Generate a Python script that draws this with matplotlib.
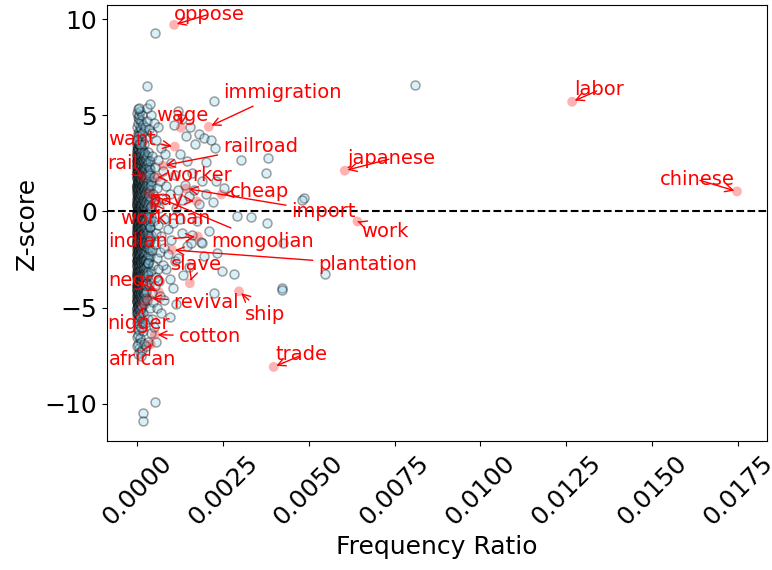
import numpy as np
import matplotlib
matplotlib.use("Agg")
import matplotlib.pyplot as plt
from matplotlib.colors import to_rgba

# ---------------- data ----------------
# dense core of the cloud: x in units of 1e-5, y = z-score
core_x_e5 = [
 2,5,9,14,1,7,11,17,3,20,6,12,25,0,15,8,4,10,18,1,22,13,6,2,28,9,16,3,11,21,0,7,14,5,24,1,18,10,3,30,8,13,2,20,6,16,0,11,4,26,9,1,15,7,19,3,12,5,23,0,10,17,2,8,14,27,4,1,11,20,6,16,0,9,3,13,24,7,1,18,10,5,2,15,8,0,12,21,4,6,1,10,17,3,8,0,13,5,2,9,1,6,
 1,4,8,12,16,3,10,6,19,0,14,23,2,8,12,5,17,0,9,3,22,13,6,1,18,10,4,15,8,2,13,6,22,0,10,4,16,8,2,13,6,20,0,11,3,17,7,1,14,5,10,22,2,16,8,0,12,4,20,7,1,14,10,3,18,6,0,12,4,15,7,2,10,0,5,12,3,8,1,4,
 0,3,6,10,13,1,5,9,16,2,7,11,0,4,15,8,2,12,6,19,0,4,9,15,2,7,12,3,18,0,9,5,14,1,7,11,3,18,0,6,9,15,2,12,5,0,8,19,3,13,6,1,10,4,15,0,8,3,11,6,17,1,9,4,14,2,7,0,11,4,1,8,3,0,6,2,
 3,7,2,6,4,9,1,5,3,8,1,6,4,2,7,5,1,3,8,6,2,4,9,1,5,3,7,2,5,9,3,6,2,5,7,3,1,5,9,3,6,1]
core_y = [
 3.3,3.1,3.4,3.2,2.9,2.8,3.0,2.7,2.6,2.9,2.5,2.6,2.4,2.7,2.5,3.2,2.2,2.3,2.1,2.4,2.6,2.0,1.9,2.0,2.2,1.8,1.7,1.6,1.5,1.9,1.8,1.4,1.3,1.2,1.5,1.1,1.2,1.0,0.9,1.1,0.8,0.7,0.6,0.8,0.5,0.4,0.3,0.3,0.2,0.5,0.1,-0.1,-0.1,-0.2,-0.3,-0.4,-0.5,-0.6,-0.4,-0.7,-0.8,-0.9,-1.0,-1.1,-1.2,-0.9,-1.3,-1.5,-1.5,-1.4,-1.7,-1.8,-1.9,-2.0,-2.1,-2.2,-1.9,-2.4,-2.5,-2.6,-2.7,-2.8,-3.0,-3.0,-3.2,-3.3,-3.4,-3.1,-3.5,-3.7,-3.9,-3.9,-3.6,-4.1,-4.3,-4.4,-4.5,-4.6,-4.8,-4.9,-5.1,-5.2,
 3.0,3.3,2.9,3.1,3.3,2.7,2.7,2.3,2.5,2.1,2.3,2.3,1.9,2.1,1.8,1.7,1.5,1.4,1.3,1.3,1.3,1.1,0.9,0.7,0.9,0.6,0.5,0.6,0.4,0.2,0.1,0.0,0.1,-0.2,-0.3,-0.5,-0.6,-0.7,-0.8,-0.9,-1.0,-1.1,-1.2,-1.3,-1.4,-1.5,-1.5,-1.7,-1.6,-1.9,-1.9,-2.1,-2.2,-2.3,-2.3,-2.6,-2.5,-2.7,-2.8,-2.9,-3.1,-3.2,-3.3,-3.4,-3.4,-3.5,-3.7,-3.8,-4.0,-4.1,-4.1,-4.3,-4.5,-4.7,-4.9,-4.8,-5.3,-5.1,-5.5,-5.7,
 3.2,3.4,3.0,3.2,2.9,2.6,2.7,2.5,2.6,2.3,2.2,2.1,2.0,1.9,2.0,1.7,1.6,1.5,1.4,1.6,1.2,1.1,1.1,1.0,0.8,0.7,0.5,0.4,0.5,0.5,0.3,0.1,0.0,-0.2,-0.4,-0.6,-0.7,-0.7,-0.9,-0.9,-1.1,-1.1,-1.2,-1.4,-1.4,-1.6,-1.6,-1.7,-1.8,-1.9,-2.1,-2.2,-2.3,-2.4,-2.5,-2.8,-2.7,-2.9,-3.0,-3.1,-3.1,-3.3,-3.6,-3.8,-3.8,-4.0,-4.0,-4.2,-4.2,-4.4,-4.6,-4.7,-4.9,-5.0,-5.4,-5.6,
 3.0,3.3,2.8,2.6,2.4,2.3,2.2,2.0,1.8,1.5,1.3,1.2,1.0,0.9,0.9,0.6,0.4,0.1,0.0,-0.3,-0.4,-0.8,-0.9,-1.1,-1.2,-1.6,-1.8,-2.0,-2.2,-2.5,-2.6,-2.8,-3.2,-3.3,-3.5,-3.7,-4.1,-4.2,-4.4,-4.6,-4.8,-5.3]

# further core words, grouped by their x (in 1e-5)
col_x_e5 = [1, 3, 5, 7, 9, 11, 13, 15, 17, 19, 21, 23, 25, 27, 29, 31, 33, 35, 37, 39, 42]
col_y = [
 [3.4,3.1,2.9,2.6,2.4,2.3,2.0,1.8,1.7,1.4,1.2,1.0,0.9,0.6,0.4,0.3,0.0,-0.2,-0.4,-0.5,-0.8,-1.0,-1.1,-1.4,-1.6,-1.7,-2.0,-2.2,-2.3,-2.6,-2.8,-2.9,-3.2,-3.4,-3.5,-3.8,-4.0,-4.1,-4.4,-4.6,-4.7,-5.0,-5.3],
 [3.3,3.2,2.8,2.7,2.5,2.2,2.1,1.9,1.6,1.5,1.3,1.1,0.8,0.7,0.5,0.2,0.1,-0.1,-0.3,-0.6,-0.7,-0.9,-1.2,-1.3,-1.5,-1.8,-1.9,-2.1,-2.4,-2.5,-2.7,-3.0,-3.1,-3.3,-3.6,-3.7,-3.9,-4.2,-4.3,-4.5,-4.8,-4.9,-5.2],
 [3.5,3.0,2.9,2.7,2.4,2.2,2.0,1.9,1.7,1.4,1.3,1.0,0.8,0.7,0.4,0.3,0.0,-0.1,-0.4,-0.5,-0.7,-1.0,-1.2,-1.3,-1.6,-1.7,-2.0,-2.1,-2.3,-2.6,-2.7,-3.0,-3.2,-3.3,-3.6,-3.8,-3.9,-4.2,-4.4,-4.5,-4.8,-5.1,-5.4],
 [3.2,3.0,2.8,2.5,2.3,2.1,1.8,1.6,1.5,1.2,1.1,0.9,0.6,0.5,0.2,0.1,-0.2,-0.3,-0.6,-0.8,-0.9,-1.1,-1.4,-1.5,-1.8,-2.0,-2.2,-2.4,-2.5,-2.8,-2.9,-3.1,-3.4,-3.5,-3.7,-4.0,-4.2,-4.3,-4.6,-4.9,-5.0,-5.6],
 [3.4,3.1,2.9,2.6,2.4,2.2,1.9,1.7,1.5,1.3,1.0,0.9,0.7,0.4,0.2,0.1,-0.1,-0.4,-0.5,-0.8,-1.0,-1.1,-1.3,-1.6,-1.8,-1.9,-2.2,-2.3,-2.6,-2.8,-3.0,-3.1,-3.3,-3.6,-3.8,-4.0,-4.1,-4.4,-4.7,-4.8,-5.1],
 [3.3,3.0,2.7,2.5,2.3,2.0,1.8,1.6,1.4,1.1,1.0,0.8,0.5,0.3,0.2,-0.1,-0.2,-0.5,-0.7,-0.9,-1.1,-1.2,-1.5,-1.7,-1.9,-2.1,-2.4,-2.5,-2.7,-3.0,-3.2,-3.4,-3.5,-3.8,-3.9,-4.2,-4.4,-4.6,-4.9,-5.3],
 [3.1,2.9,2.6,2.4,2.1,2.0,1.7,1.5,1.2,1.1,0.9,0.6,0.4,0.3,0.0,-0.2,-0.4,-0.6,-0.8,-1.0,-1.3,-1.4,-1.6,-1.9,-2.0,-2.2,-2.5,-2.7,-2.9,-3.1,-3.3,-3.6,-3.7,-3.9,-4.2,-4.3,-4.5,-4.8,-5.0],
 [3.2,2.8,2.6,2.3,2.1,1.9,1.6,1.4,1.3,1.0,0.8,0.5,0.4,0.1,-0.1,-0.3,-0.6,-0.7,-0.9,-1.2,-1.3,-1.5,-1.8,-2.0,-2.1,-2.4,-2.6,-2.8,-3.0,-3.3,-3.4,-3.7,-3.9,-4.1,-4.4,-4.6,-4.9],
 [3.0,2.7,2.5,2.2,2.0,1.8,1.5,1.3,1.1,0.9,0.6,0.4,0.2,0.0,-0.3,-0.5,-0.6,-0.9,-1.1,-1.3,-1.6,-1.7,-1.9,-2.2,-2.4,-2.6,-2.9,-3.0,-3.2,-3.5,-3.7,-4.0,-4.2,-4.5,-4.7],
 [3.1,2.8,2.4,2.2,1.9,1.7,1.5,1.2,1.0,0.7,0.5,0.3,0.0,-0.2,-0.4,-0.7,-0.9,-1.1,-1.4,-1.5,-1.8,-2.0,-2.3,-2.5,-2.7,-3.0,-3.2,-3.4,-3.7,-3.9,-4.2,-4.4,-4.8],
 [2.9,2.6,2.3,2.1,1.8,1.6,1.3,1.1,0.8,0.6,0.3,0.1,-0.1,-0.4,-0.6,-0.8,-1.1,-1.3,-1.6,-1.8,-2.1,-2.3,-2.5,-2.8,-3.0,-3.3,-3.5,-3.8,-4.1,-4.3,-4.6],
 [3.0,2.5,2.2,1.9,1.5,1.2,0.9,0.5,0.2,-0.1,-0.5,-0.8,-1.2,-1.5,-1.8,-2.2,-2.5,-2.9,-3.2,-3.6,-3.9,-4.3],
 [2.8,2.4,2.0,1.7,1.4,1.0,0.7,0.4,0.0,-0.3,-0.7,-1.0,-1.4,-1.7,-2.0,-2.4,-2.7,-3.1,-3.4,-3.8,-4.1,-4.5],
 [2.7,2.2,1.8,1.3,0.9,0.5,0.1,-0.4,-0.8,-1.2,-1.6,-2.1,-2.5,-2.9,-3.3,-3.8,-4.2],
 [2.9,2.4,1.9,1.5,1.1,0.6,0.2,-0.2,-0.7,-1.1,-1.5,-1.9,-2.4,-2.8,-3.2,-3.7],
 [2.5,2.0,1.6,1.2,0.7,0.3,-0.1,-0.6,-1.0,-1.4,-1.9,-2.3,-2.7,-3.1],
 [2.6,2.1,1.4,0.9,0.4,-0.2,-0.6,-1.2,-1.7,-2.2,-2.7,-3.3],
 [2.3,1.7,1.0,0.5,-0.1,-0.7,-1.3,-1.9,-2.5],
 [2.0,1.3,0.6,0.0,-0.8,-1.5,-2.3],
 [2.2,1.1,0.2,-0.5,-1.4,-2.0],
 [1.6,0.7,-0.3,-1.2]]

# upper and lower tails of the cloud (x in 1e-5)
tail_x_e5 = [1,4,8,12,2,6,10,15,0,4,8,13,3,7,11,17,1,5,9,14,3,7,19,22,6,10,2,16,0,24,20,
             0,5,10,2,7,14,1,4,9,3,12,6,1,17,8,4,15,20,11,18,22,25,11]
tail_y = [3.6,3.8,3.6,3.9,4.1,4.2,4.0,3.7,4.4,4.6,4.4,4.3,4.9,4.8,4.7,4.5,5.1,5.0,5.2,5.0,5.3,5.4,4.2,3.8,3.5,3.5,3.9,4.1,3.7,4.4,3.5,
          -5.8,-5.9,-5.5,-6.1,-6.2,-5.7,-6.5,-6.4,-6.6,-6.9,-6.8,-7.1,-7.0,-6.2,-7.3,-7.4,-7.2,-6.9,-6.0,-5.3,-5.8,-7.0,-7.5]

# halo around the core (x in 1e-5)
halo_x_e5 = [32,38,45,52,60,35,42,50,58,66,75,34,40,48,55,63,72,85,95,33,39,46,54,61,70,80,90,105,36,44,51,58,66,78,
             32,40,48,56,35,43,52,30,38,47,33,28,35,42,50,30,38,45,55,62,70,82,100,110,120,130,115,140,150,125,100,90,
             110,85,65,75,95,68,58,45,40,50,32,55,60,160,170,155,142,130,118,108,125,145,165,180,175,160,145,130,120,
             150,135,105,80,115,70,95,190,200,185,195,210,220,230]
halo_y = [3.1,2.6,2.9,2.3,2.7,1.9,1.4,1.8,1.2,1.6,2.1,0.8,0.3,0.9,0.5,0.2,0.7,1.3,0.9,-0.3,-0.8,-0.5,-1.1,-0.7,-1.3,-0.4,-0.9,-0.6,-1.6,-2.0,-1.7,-2.4,-2.1,-1.9,
          -2.7,-3.1,-2.8,-3.4,-3.8,-4.2,-3.9,-4.6,-5.0,-4.7,-5.6,4.7,4.3,5.0,4.6,5.4,5.6,4.1,3.7,4.4,3.3,3.0,2.5,1.9,1.1,0.6,0.2,1.4,0.8,-0.4,-1.5,-2.2,
          -2.6,-3.0,-3.6,-2.8,-3.5,-4.4,-5.0,-5.6,-6.3,-6.0,-6.8,-6.8,-3.0,2.0,3.5,4.4,3.9,4.8,5.2,4.5,3.0,2.6,1.1,0.4,-0.5,-1.2,-1.8,-1.1,-2.4,
          -2.9,-3.3,-4.0,-4.6,-4.8,-5.3,-5.5,1.6,0.9,-1.6,-2.3,-1.0,0.5,1.6]

# isolated points
outer_x = [0.00052,0.00029,0.00224,0.00808,0.00180,0.00195,0.00215,0.00227,0.00302,0.00381,0.00375,0.00200,
           0.00253,0.00486,0.00480,0.00378,0.00331,0.00292,0.00233,0.00247,0.00282,0.00224,0.00421,0.00421,
           0.00547,0.00424,0.00189,0.00157,0.00017,0.00017,0.00052]
outer_y = [9.27,6.53,5.75,6.58,4.04,3.83,3.73,3.32,2.69,2.80,2.02,2.59,
           1.24,0.70,0.62,-0.62,-0.30,-0.25,-2.17,-3.10,-3.26,-4.25,-4.00,-4.10,
           -3.26,-1.66,-1.66,-1.66,-10.47,-10.90,-9.90]

# highlighted words
words = ["oppose","immigration","wage","want","railroad","rail","worker","cheap","pay","import",
         "workman","work","indian","mongolian","plantation","slave","negro","revival","ship","nigger",
         "cotton","african","trade","labor","japanese","chinese"]
word_x = [0.00108,0.00209,0.00128,0.00110,0.00076,0.00015,0.00060,0.00246,0.00174,0.00142,
          0.00050,0.00642,0.00177,0.00035,0.00102,0.00154,0.00064,0.00035,0.00297,0.00017,
          0.00052,0.00040,0.00398,0.01267,0.00605,0.01747]
word_y = [9.70,4.40,4.35,3.37,2.38,1.80,1.77,0.88,0.53,1.19,
          0.40,-0.52,-1.30,0.93,-2.00,-3.73,-4.20,-4.50,-4.15,-4.87,
          -6.40,-6.90,-8.08,5.70,2.12,1.04]
# label (text centre) positions
label_x = [0.00212,0.00422,0.00131,-0.00015,0.00360,-0.00041,0.00180,0.00358,0.00084,0.00544,
           0.00084,0.00721,0.00003,0.00366,0.00672,0.00172,-0.00003,0.00201,0.00372,0.00006,
           0.00212,0.00015,0.00480,0.01346,0.00741,0.01631]
label_y = [10.26,6.17,4.97,3.73,3.37,2.49,1.87,1.04,0.62,0.00,
           -0.36,-1.04,-1.55,-1.55,-2.75,-2.75,-3.58,-4.72,-5.34,-5.80,
           -6.48,-7.67,-7.46,6.32,2.75,1.66]

# ---------------- plot ----------------
fig = plt.figure(figsize=(7.72, 5.70), dpi=100)
ax = fig.add_axes([107/772, 1-441/570, (767-107)/772, (441-5)/570])

col_xs = np.concatenate([[cx]*len(cy) for cx, cy in zip(col_x_e5, col_y)]) * 1e-5
col_ys = np.concatenate(col_y)
cloud_x = np.concatenate([np.array(core_x_e5)*1e-5, col_xs, np.array(tail_x_e5)*1e-5,
                          np.array(halo_x_e5)*1e-5, np.array(outer_x)])
cloud_y = np.concatenate([core_y, col_ys, tail_y, halo_y, outer_y])

ax.scatter(cloud_x, cloud_y, s=42, facecolors=to_rgba('skyblue', 0.3),
           edgecolors=to_rgba('black', 0.36), linewidths=1.1)
ax.scatter(word_x, word_y, s=50, c='red', alpha=0.3, edgecolors='none')
ax.axhline(0, color='black', linestyle='--', linewidth=1.5)

for w, px, py, tx, ty in zip(words, word_x, word_y, label_x, label_y):
    ax.annotate(w, xy=(px, py), xytext=(tx, ty), ha='center', va='center',
                color='red', fontsize=14,
                arrowprops=dict(arrowstyle='->', color='red', lw=1))

ax.set_xticks([0.0, 0.0025, 0.005, 0.0075, 0.01, 0.0125, 0.015, 0.0175])
ax.set_xticklabels(["0.0000","0.0025","0.0050","0.0075","0.0100","0.0125","0.0150","0.0175"])
ax.set_yticks([-10, -5, 0, 5, 10])
ax.tick_params(axis='both', labelsize=18)
plt.setp(ax.get_xticklabels(), rotation=45)
ax.set_xlabel("Frequency Ratio", fontsize=18)
ax.set_ylabel("Z-score", fontsize=18)

fig.savefig("out.png", dpi=100)
